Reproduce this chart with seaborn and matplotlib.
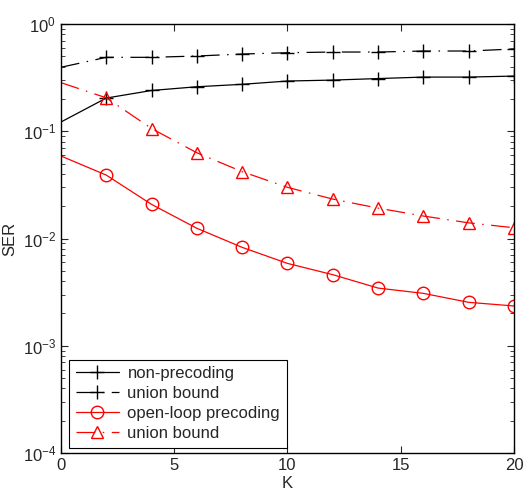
import numpy as np
import pandas as pd
import matplotlib
matplotlib.use("Agg")
import matplotlib.pyplot as plt
import seaborn as sns
from matplotlib.ticker import LogLocator, FixedLocator

# --- data ---
K = [0, 2, 4, 6, 8, 10, 12, 14, 16, 18, 20]
ser_nonprec = [0.122, 0.204, 0.24, 0.26, 0.274, 0.294, 0.30, 0.31, 0.32, 0.32, 0.327]
ser_nonprec_ub = [0.395, 0.489, 0.489, 0.503, 0.525, 0.54, 0.548, 0.548, 0.56, 0.56, 0.585]
ser_olp = [0.0588, 0.039, 0.0208, 0.01245, 0.00827, 0.00586, 0.0046, 0.00345, 0.00308, 0.00254, 0.00235]
ser_olp_ub = [0.284, 0.205, 0.106, 0.063, 0.042, 0.030, 0.0233, 0.0192, 0.0162, 0.014, 0.0126]

labels = ["non-precoding", "union bound", "open-loop precoding", "union bound"]

sns.set_style("ticks")
plt.rcParams['font.family'] = ['Liberation Sans', 'DejaVu Sans']
plt.rcParams['mathtext.fontset'] = 'custom'
plt.rcParams['mathtext.rm'] = 'Liberation Sans'

fig = plt.figure(figsize=(5.23, 4.93), dpi=100)
ax = fig.add_axes([0.1166, 0.0811, 0.8662, 0.8702])

df = pd.DataFrame({"K": K, "a": ser_nonprec, "b": ser_nonprec_ub,
                   "c": ser_olp, "d": ser_olp_ub})

dashdot = (0, (15, 6, 1.2, 6))
mev = slice(1, None)
sns.lineplot(data=df, x="K", y="a", ax=ax, color="black", lw=0.9,
             marker="+", ms=10, mew=1.0, mec="black", markevery=mev, label=labels[0])
sns.lineplot(data=df, x="K", y="b", ax=ax, color="black", lw=0.9, linestyle=dashdot,
             marker="+", ms=10, mew=1.0, mec="black", markevery=mev, label=labels[1])
sns.lineplot(data=df, x="K", y="c", ax=ax, color="red", lw=0.9,
             marker="o", ms=9, mew=1.0, mfc="none", mec="red", markevery=mev, label=labels[2])
sns.lineplot(data=df, x="K", y="d", ax=ax, color="red", lw=0.9, linestyle=dashdot,
             marker="^", ms=9, mew=1.0, mfc="none", mec="red", markevery=mev, label=labels[3])

ax.set_yscale("log")
ax.set_xlim(0, 20)
ax.set_ylim(1e-4, 1)
ax.xaxis.set_major_locator(FixedLocator([0, 5, 10, 15, 20]))
ax.yaxis.set_major_locator(LogLocator(base=10, numticks=10))
ax.yaxis.set_minor_locator(LogLocator(base=10, subs=np.arange(2, 10), numticks=10))

ax.tick_params(which="both", direction="in", top=True, right=True, labelsize=12)
ax.tick_params(which="major", length=5, width=0.8)
ax.tick_params(which="minor", length=3, width=0.6)
for s in ax.spines.values():
    s.set_linewidth(1.0)
    s.set_color("black")

ax.set_xlabel("K", fontsize=12, labelpad=2)
ax.set_ylabel("SER", fontsize=12, labelpad=4)

leg = ax.legend(loc="lower left", bbox_to_anchor=(0.018, 0.012), borderaxespad=0,
                fontsize=12, frameon=True, fancybox=False, framealpha=1, edgecolor="black",
                handlelength=2.6, handletextpad=0.5, borderpad=0.4, labelspacing=0.3)
leg.get_frame().set_linewidth(0.8)

fig.savefig("out.png", dpi=100)
